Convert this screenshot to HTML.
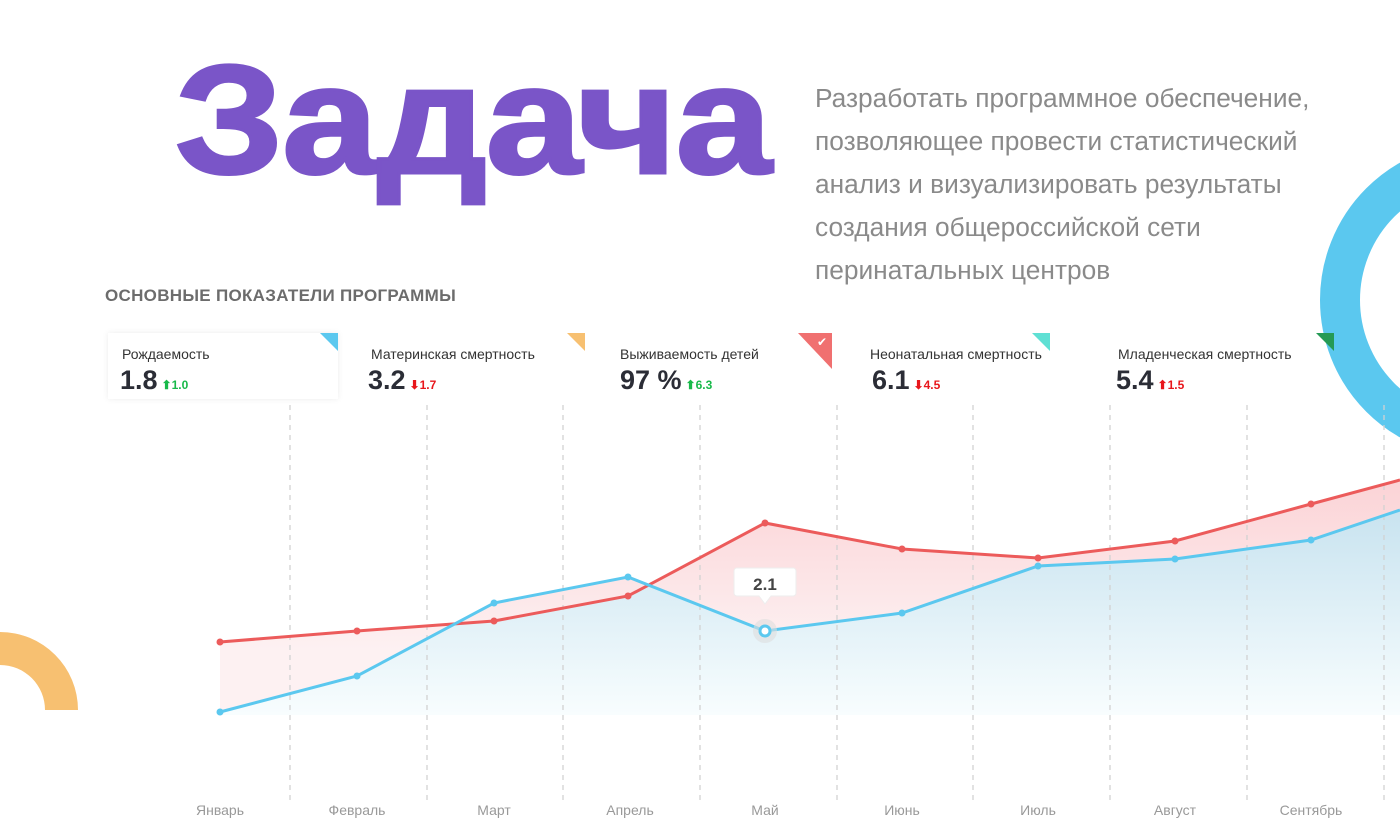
<!DOCTYPE html>
<html><head><meta charset="utf-8"><style>
body{margin:0;width:1400px;height:840px;overflow:hidden;background:#fff;font-family:"Liberation Sans",sans-serif;position:relative}
.title{position:absolute;left:175px;top:42px;font-size:155px;font-weight:bold;color:#7a55c8;transform:scaleX(1.115);transform-origin:left top;line-height:155px;letter-spacing:-1px;-webkit-text-stroke:3px #7a55c8}
.para{position:absolute;left:815px;top:77px;font-size:26.3px;color:#8a8a8a;line-height:43px}
.sub{position:absolute;left:105px;top:286px;font-size:17px;font-weight:bold;color:#6c6c6c;letter-spacing:0.3px}
.card{position:absolute;top:333px;height:66px}
.card .l{font-size:14px;color:#333;position:absolute;top:13px;white-space:nowrap}
.card .v{font-size:27px;font-weight:bold;color:#2b2d36;position:absolute;top:32px;white-space:nowrap}
.card .v span{font-size:12px;margin-left:4px}
.g{color:#18b94a}.r{color:#e8161b}
.tri{position:absolute;width:0;height:0}
</style></head><body>
<svg width="1400" height="840" style="position:absolute;left:0;top:0">
<defs>
<linearGradient id="bf" gradientUnits="userSpaceOnUse" x1="0" y1="500" x2="0" y2="715"><stop offset="0" stop-color="#c6e2ef"/><stop offset="1" stop-color="#f8fdfe"/></linearGradient>
<linearGradient id="rf" gradientUnits="userSpaceOnUse" x1="0" y1="480" x2="0" y2="650"><stop offset="0" stop-color="#fbd3d6"/><stop offset="1" stop-color="#fdf1f2"/></linearGradient>
</defs>
<circle cx="1478" cy="300" r="138" fill="none" stroke="#5bc8ef" stroke-width="40"/>
<path d="M0 632 A78 78 0 0 1 78 710 L45 710 A45 45 0 0 0 0 665Z" fill="#f7c071"/>
<polygon points="220,712 357,676 494,603 628,577 765,631 902,613 1038,566 1175,559 1311,540 1400,510 1400,715 220,715" fill="url(#bf)"/>
<polygon points="220,642 357,631 494,621 628,596 765,523 902,549 1038,558 1175,541 1311,504 1400,480 1400,510 1311,540 1175,559 1038,566 902,613 765,631 628,577 494,603 357,676 220,712" fill="url(#rf)"/>
<g stroke="#d2d2d2" stroke-width="1.3" stroke-dasharray="5,5">
<line x1="290" y1="405" x2="290" y2="800"/><line x1="427" y1="405" x2="427" y2="800"/><line x1="563" y1="405" x2="563" y2="800"/><line x1="700" y1="405" x2="700" y2="800"/><line x1="837" y1="405" x2="837" y2="800"/><line x1="973" y1="405" x2="973" y2="800"/><line x1="1110" y1="405" x2="1110" y2="800"/><line x1="1247" y1="405" x2="1247" y2="800"/><line x1="1384" y1="405" x2="1384" y2="800"/>
</g>
<polyline points="220,642 357,631 494,621 628,596 765,523 902,549 1038,558 1175,541 1311,504 1400,480" fill="none" stroke="#ec5b5b" stroke-width="3"/>
<polyline points="220,712 357,676 494,603 628,577 765,631 902,613 1038,566 1175,559 1311,540 1400,510" fill="none" stroke="#5bc8ef" stroke-width="3"/>
<g fill="#ec5b5b"><circle cx="220" cy="642" r="3.5"/><circle cx="357" cy="631" r="3.5"/><circle cx="494" cy="621" r="3.5"/><circle cx="628" cy="596" r="3.5"/><circle cx="765" cy="523" r="3.5"/><circle cx="902" cy="549" r="3.5"/><circle cx="1038" cy="558" r="3.5"/><circle cx="1175" cy="541" r="3.5"/><circle cx="1311" cy="504" r="3.5"/></g>
<g fill="#5bc8ef"><circle cx="220" cy="712" r="3.5"/><circle cx="357" cy="676" r="3.5"/><circle cx="494" cy="603" r="3.5"/><circle cx="628" cy="577" r="3.5"/><circle cx="902" cy="613" r="3.5"/><circle cx="1038" cy="566" r="3.5"/><circle cx="1175" cy="559" r="3.5"/><circle cx="1311" cy="540" r="3.5"/></g>
<circle cx="765" cy="631" r="12" fill="#ddd" opacity="0.6"/>
<circle cx="765" cy="631" r="5" fill="#fff" stroke="#5bc8ef" stroke-width="3"/>
<path d="M737 568 h56 a3 3 0 0 1 3 3 v22 a3 3 0 0 1 -3 3 h-22 l-6 8 l-6 -8 h-22 a3 3 0 0 1 -3 -3 v-22 a3 3 0 0 1 3 -3z" fill="#fff" stroke="#eee"/>
<text x="765" y="590" text-anchor="middle" font-size="17" font-weight="bold" fill="#444" font-family="Liberation Sans">2.1</text>
<g font-size="14" fill="#999" text-anchor="middle" font-family="Liberation Sans">
<text x="220" y="815">Январь</text><text x="357" y="815">Февраль</text><text x="494" y="815">Март</text><text x="630" y="815">Апрель</text><text x="765" y="815">Май</text><text x="902" y="815">Июнь</text><text x="1038" y="815">Июль</text><text x="1175" y="815">Август</text><text x="1311" y="815">Сентябрь</text>
</g>
</svg>
<div class="title">Задача</div>
<div class="para">Разработать программное обеспечение,<br>позволяющее провести статистический<br>анализ и визуализировать результаты<br>создания общероссийской сети<br>перинатальных центров</div>
<div class="sub">ОСНОВНЫЕ ПОКАЗАТЕЛИ ПРОГРАММЫ</div>
<div class="card" style="left:108px;width:230px;background:#fff;box-shadow:0 0 6px rgba(0,0,0,0.08)">
<div class="tri" style="right:0;top:0;border-top:18px solid #5bc8ef;border-left:18px solid transparent"></div>
<div class="l" style="left:14px">Рождаемость</div><div class="v" style="left:12px">1.8<span class="g">⬆1.0</span></div></div>
<div class="card" style="left:360px;width:225px">
<div class="tri" style="right:0;top:0;border-top:18px solid #f7c071;border-left:18px solid transparent"></div>
<div class="l" style="left:11px">Материнская смертность</div><div class="v" style="left:8px">3.2<span class="r">⬇1.7</span></div></div>
<div class="card" style="left:610px;width:222px">
<div class="tri" style="right:0;top:0;border-top:36px solid #f07070;border-left:34px solid transparent"></div>
<div style="position:absolute;right:5px;top:2px;color:#fff;font-size:12px">✔</div>
<div class="l" style="left:10px">Выживаемость детей</div><div class="v" style="left:10px">97 %<span class="g">⬆6.3</span></div></div>
<div class="card" style="left:860px;width:190px">
<div class="tri" style="right:0;top:0;border-top:18px solid #5fe0d4;border-left:18px solid transparent"></div>
<div class="l" style="left:10px">Неонатальная смертность</div><div class="v" style="left:12px">6.1<span class="r">⬇4.5</span></div></div>
<div class="card" style="left:1108px;width:226px">
<div class="tri" style="right:0;top:0;border-top:18px solid #259a55;border-left:18px solid transparent"></div>
<div class="l" style="left:10px">Младенческая смертность</div><div class="v" style="left:8px">5.4<span class="r">⬆1.5</span></div></div>
</body></html>
